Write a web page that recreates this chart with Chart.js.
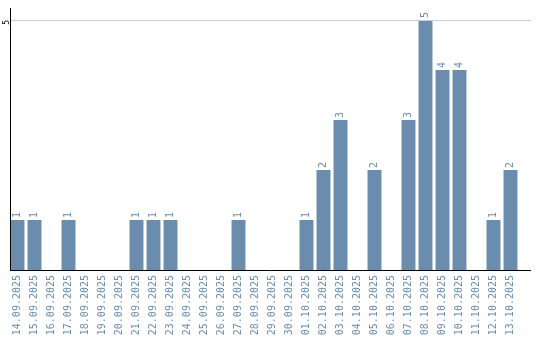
<!DOCTYPE html>
<html>
<head>
<meta charset="utf-8">
<script src="https://cdn.jsdelivr.net/npm/chart.js@4/dist/chart.umd.min.js"></script>
<style>
    html, body { margin: 0; padding: 0; background: #fff; }
    #wrap { width: 540px; height: 340px; }
</style>
</head>
<body>
<div id="wrap"><canvas id="dayChart" width="540" height="340"></canvas></div>
<script>
var days = ['14.09.2025', '15.09.2025', '16.09.2025', '17.09.2025', '18.09.2025', '19.09.2025',
    '20.09.2025', '21.09.2025', '22.09.2025', '23.09.2025', '24.09.2025', '25.09.2025',
    '26.09.2025', '27.09.2025', '28.09.2025', '29.09.2025', '30.09.2025', '01.10.2025',
    '02.10.2025', '03.10.2025', '04.10.2025', '05.10.2025', '06.10.2025', '07.10.2025',
    '08.10.2025', '09.10.2025', '10.10.2025', '11.10.2025', '12.10.2025', '13.10.2025'];
var counts = [1, 1, 0, 1, 0, 0, 0, 1, 1, 1, 0, 0, 0, 1, 0, 0, 0, 1, 2, 3, 0, 2, 0, 3, 5, 4, 4, 0, 1, 2];
var yTicks = [5];

var barColor = '#6a8cad';

// labels above bars + lines that run past the plot on the right
var extras = {
    id: 'extras',
    afterDatasetsDraw: function (chart) {
        var ctx = chart.ctx;
        var meta = chart.getDatasetMeta(0);
        ctx.save();
        ctx.fillStyle = barColor;
        ctx.font = '10px "DejaVu Sans Mono"';
        ctx.textAlign = 'left';
        ctx.textBaseline = 'middle';
        meta.data.forEach(function (bar, i) {
            if (!counts[i]) return;
            ctx.save();
            ctx.translate(bar.x, bar.y - 2);
            ctx.rotate(-Math.PI / 2);
            ctx.fillText(String(counts[i]), 0, 0);
            ctx.restore();
        });
        var a = chart.chartArea;
        var y5 = Math.round(chart.scales.y.getPixelForValue(yTicks[0]));
        var bottom = Math.round(a.bottom);
        var left = Math.round(a.left) + 1;
        ctx.lineWidth = 1;
        ctx.strokeStyle = '#cccccc';
        ctx.beginPath();
        ctx.moveTo(left, y5 + 0.5);
        ctx.lineTo(a.right + 12, y5 + 0.5);
        ctx.stroke();
        ctx.strokeStyle = '#000000';
        ctx.beginPath();
        ctx.moveTo(left, bottom + 0.5);
        ctx.lineTo(a.right + 12, bottom + 0.5);
        ctx.moveTo(left + 0.5, a.top - 2);
        ctx.lineTo(left + 0.5, bottom + 1);
        ctx.stroke();
        ctx.restore();
    }
};

var ctx = document.getElementById('dayChart').getContext('2d');
var chart = new Chart(ctx, {
    type: 'bar',
    data: {
        labels: days,
        datasets: [{
            data: counts,
            backgroundColor: barColor,
            borderWidth: 0,
            barPercentage: 0.82,
            categoryPercentage: 1
        }]
    },
    options: {
        responsive: false,
        animation: false,
        layout: { padding: { top: 10, right: 21, left: 0, bottom: 0 } },
        plugins: {
            legend: { display: false },
            tooltip: { enabled: false }
        },
        scales: {
            x: {
                grid: { display: false, drawTicks: false },
                border: { display: false },
                afterFit: function (s) { s.height = 70; },
                ticks: {
                    color: barColor,
                    font: { family: 'DejaVu Sans Mono', size: 10 },
                    minRotation: 90,
                    maxRotation: 90,
                    autoSkip: false,
                    padding: 5
                }
            },
            y: {
                min: 0,
                max: 5.2,
                afterBuildTicks: function (s) {
                    s.ticks = yTicks.map(function (v) { return { value: v }; });
                },
                afterFit: function (s) { s.width = 9; },
                grid: { display: false, drawTicks: false },
                border: { display: false },
                ticks: {
                    color: '#000',
                    font: { family: 'DejaVu Sans Mono', size: 8 },
                    minRotation: 90,
                    maxRotation: 90,
                    padding: 2
                }
            }
        }
    },
    plugins: [extras]
});
</script>
</body>
</html>
